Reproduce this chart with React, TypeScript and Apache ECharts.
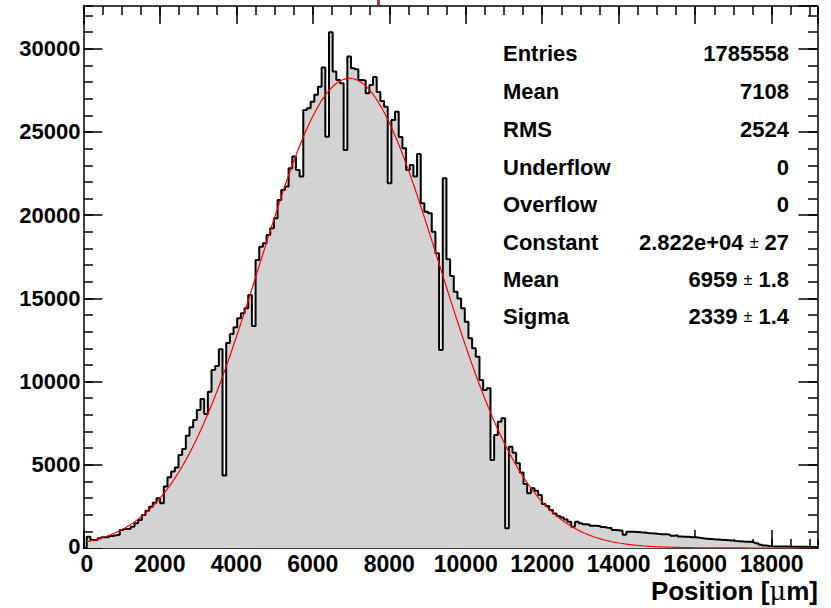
import React, { useEffect, useRef } from "react";
import * as echarts from "echarts";

// Histogram binning (Position in µm)
const BIN_START = 87;
const BIN_WIDTH = 96;
const counts = [
  680, 480, 500, 580, 640, 650, 720, 760, 790, 1080,
  1140, 1160, 1280, 1480, 1680, 1980, 2240, 2480, 2720, 2990,
  2690, 3690, 4250, 4590, 4830, 5590, 5950, 6750, 7250, 7690,
  8290, 8950, 8050, 9390, 10700, 10940, 11940, 4350, 12320, 12860,
  13260, 13800, 14100, 14400, 15200, 13340, 17310, 18110, 18310, 18810,
  19210, 19810, 20910, 21520, 21720, 22820, 23520, 22720, 22320, 26320,
  26430, 26820, 27230, 27720, 28870, 24720, 30990, 28630, 28130, 27930,
  23920, 29530, 28830, 28770, 28130, 28100, 27330, 27830, 28300, 27400,
  26860, 26520, 21920, 25720, 26220, 24700, 24020, 22720, 23020, 22320,
  23680, 20720, 20210, 20110, 19010, 17710, 11900, 22220, 17350, 16350,
  15400, 15000, 14410, 13600, 12600, 12000, 11500, 10100, 9500, 9600,
  5290, 6790, 7590, 7790, 1180, 6090, 5730, 5090, 4530, 3850,
  3290, 3590, 3440, 3190, 2640, 2520, 2280, 2080, 1920, 1840,
  1720, 1580, 1280, 1580, 1480, 1430, 1410, 1340, 1330, 1310,
  1260, 1220, 1200, 1080, 1060, 1040, 800, 980, 970, 960,
  940, 930, 900, 880, 870, 840, 820, 820, 800, 740,
  760, 690, 680, 670, 650, 640, 620, 580, 560, 540,
  520, 510, 490, 480, 470, 450, 420, 410, 390, 380,
  370, 330, 280, 200, 150, 120, 100, 95, 90, 90,
  85, 80, 80, 75, 70, 70, 65, 60, 60,
];

// Gaussian fit parameters (from the stats box)
const FIT_CONSTANT = 28220;
const FIT_MEAN = 6959;
const FIT_SIGMA = 2339;

// Axes
const X_MIN = 0;
const X_MAX = 19200;
const X_MAJOR = 2000;
const X_MINOR = 500;
const Y_MIN = 0;
const Y_MAX = 32570;
const Y_MAJOR = 5000;
const Y_MINOR = 1000;
const X_TITLE_PARTS = ["Position [", "\u03bc", "m]"];

// Stats box
const statLabels = ["Entries", "Mean", "RMS", "Underflow", "Overflow", "Constant", "Mean", "Sigma"];
const statValues = ["1785558", "7108", "2524", "0", "0", "2.822e+04|27", "6959|1.8", "2339|1.4"];

const FONT = "'Liberation Sans', Arial, Helvetica, sans-serif";

export default function App() {
  const ref = useRef<HTMLDivElement>(null);

  useEffect(() => {
    if (!ref.current) return;
    const chart = echarts.init(ref.current, null, { renderer: "svg" });

    const binEnd = BIN_START + counts.length * BIN_WIDTH;
    const histData: number[][] = [[BIN_START, 0]];
    counts.forEach((c, i) => histData.push([BIN_START + i * BIN_WIDTH, c]));
    histData.push([binEnd, counts[counts.length - 1]]);
    histData.push([binEnd, 0]);

    const fitData: number[][] = [];
    for (let x = BIN_START; x <= binEnd; x += 40) {
      const z = (x - FIT_MEAN) / FIT_SIGMA;
      fitData.push([x, FIT_CONSTANT * Math.exp(-0.5 * z * z)]);
    }

    const lineCol = "#000";
    const xLabelStyle = { fontSize: 23, fontWeight: "bold", fontFamily: FONT, color: "#000" };
    const yLabelStyle = { fontSize: 22, fontWeight: "bold", fontFamily: FONT, color: "#000" };
    const mkX = (position: string, interval: number, tickLen: number, labels: boolean, line: boolean) => ({
      type: "value",
      position,
      min: X_MIN,
      max: X_MAX,
      interval,
      axisLine: { show: line, onZero: false, lineStyle: { color: lineCol, width: 1.5 } },
      axisTick: { show: true, inside: true, length: tickLen, lineStyle: { color: lineCol, width: 1.5 } },
      axisLabel: {
        show: labels,
        showMaxLabel: false,
        ...xLabelStyle,
        margin: 4,
        formatter: (v: number) => (v === 0 ? "{z|0}" : `{n|${v}}`),
        rich: {
          n: { ...xLabelStyle },
          z: { ...xLabelStyle, padding: [0, 0, 0, 7] },
        },
      },
      splitLine: { show: false },
    });
    const mkY = (position: string, interval: number, tickLen: number, labels: boolean, line: boolean) => ({
      type: "value",
      position,
      min: Y_MIN,
      max: Y_MAX,
      interval,
      axisLine: { show: line, onZero: false, lineStyle: { color: lineCol, width: 1.5 } },
      axisTick: { show: true, inside: true, length: tickLen, lineStyle: { color: lineCol, width: 1.5 } },
      axisLabel: {
        show: labels,
        showMaxLabel: false,
        ...yLabelStyle,
        margin: 3,
        formatter: (v: number) => (v === 0 ? "{z|0}" : `{n|${v}}`),
        rich: {
          n: { ...yLabelStyle },
          z: { ...yLabelStyle, padding: [0, 0, 4, 0] },
        },
      },
      splitLine: { show: false },
    });

    const statRowY = [54, 92, 130, 168, 205, 243, 280, 317];
    const graphics: any[] = [];
    statLabels.forEach((lab, i) => {
      graphics.push({
        type: "text",
        left: 503,
        top: statRowY[i] - 12,
        style: { text: lab, fontSize: 22, fontWeight: "bold", fontFamily: FONT, fill: "#000" },
      });
      const parts = statValues[i].split("|");
      const txt = parts.length > 1 ? `{b|${parts[0]} }{pm|\u00b1}{b| ${parts[1]}}` : `{b|${parts[0]}}`;
      graphics.push({
        type: "text",
        right: 831 - 789,
        top: statRowY[i] - 12,
        style: {
          text: txt,
          fill: "#000",
          rich: {
            b: { fontSize: 22, fontWeight: "bold", fontFamily: FONT, fill: "#000" },
            pm: { fontSize: 16, fontWeight: "normal", fontFamily: FONT, fill: "#000" },
          },
        },
      });
    });
    graphics.push({
      type: "text",
      right: 831 - 818,
      top: 578,
      style: {
        text: `{b|${X_TITLE_PARTS[0]}}{g|${X_TITLE_PARTS[1]}}{b|${X_TITLE_PARTS[2]}}`,
        fill: "#000",
        rich: {
          b: { fontSize: 26, fontWeight: "bold", fontFamily: FONT, fill: "#000" },
          g: { fontSize: 26, fontWeight: "normal", fontFamily: "'DejaVu Serif', 'Liberation Serif', serif", fill: "#000" },
        },
      },
    });
    graphics.push({
      type: "rect",
      left: 377,
      top: 0,
      shape: { width: 3, height: 5 },
      style: { fill: "#b03a3a" },
    });

    chart.setOption({
      animation: false,
      backgroundColor: "#fff",
      grid: { left: 83.4, right: 831 - 817.5, top: 6, bottom: 608 - 548, containLabel: false },
      xAxis: [
        mkX("bottom", X_MAJOR, 18, true, true),
        mkX("bottom", X_MINOR, 9, false, false),
        mkX("top", X_MAJOR, 18, false, true),
        mkX("top", X_MINOR, 9, false, false),
      ],
      yAxis: [
        mkY("left", Y_MAJOR, 19, true, true),
        mkY("left", Y_MINOR, 9.5, false, false),
        mkY("right", Y_MAJOR, 19, false, true),
        mkY("right", Y_MINOR, 9.5, false, false),
      ],
      series: [
        {
          type: "line",
          xAxisIndex: 0,
          yAxisIndex: 0,
          data: histData,
          step: "end",
          symbol: "none",
          lineStyle: { color: "#000", width: 2 },
          areaStyle: { color: "#d3d3d3", opacity: 1 },
          z: 2,
        },
        {
          type: "line",
          xAxisIndex: 0,
          yAxisIndex: 0,
          data: fitData,
          symbol: "none",
          smooth: false,
          lineStyle: { color: "#ff0000", width: 1.2 },
          z: 3,
        },
      ],
      graphic: graphics,
    });

    return () => chart.dispose();
  }, []);

  return (
    <div
      ref={ref}
      style={{ position: "fixed", left: 0, top: 0, width: 831, height: 608, background: "#fff" }}
    />
  );
}
